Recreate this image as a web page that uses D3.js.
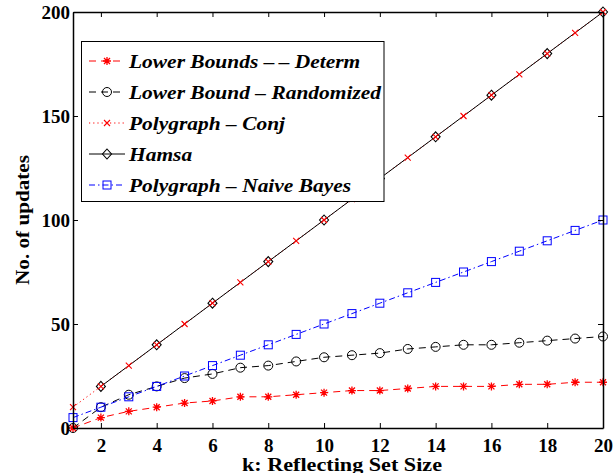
<!DOCTYPE html>
<html>
<head>
<meta charset="utf-8">
<script src="https://cdn.jsdelivr.net/npm/d3@7"></script>
<style>
  body { margin: 0; background: #fff; }
  svg { display: block; }
</style>
</head>
<body>
<svg id="chart" width="615" height="473"></svg>
<script>
// data
const k = [1, 2, 3, 4, 5, 6, 7, 8, 9, 10, 11, 12, 13, 14, 15, 16, 17, 18, 19, 20]
const determ = [0, 5, 8, 10, 12, 13, 15, 15, 16, 17, 18, 18, 19, 20, 20, 20, 21, 21, 22, 22]
const randomized = [0, 10, 16, 20, 24, 26, 29, 30, 32, 34, 35, 36, 38, 39, 40, 40, 41, 42, 43, 44]
const conj = [10, 20, 30, 40, 50, 60, 70, 80, 90, 100, 110, 120, 130, 140, 150, 160, 170, 180, 190, 200]
const hamsaK = [2, 4, 6, 8, 10, 12, 14, 16, 18, 20]
const hamsa = [20, 40, 60, 80, 100, 120, 140, 160, 180, 200]
const naiveBayes = [5, 10, 15, 20, 25, 30, 35, 40, 45, 50, 55, 60, 65, 70, 75, 80, 85, 90, 95, 100]

const xTicks = [2, 4, 6, 8, 10, 12, 14, 16, 18, 20]
const yTicks = [0, 50, 100, 150, 200]
const legendLabels = ['Lower Bounds \u2013\u2009\u2013 Determ', 'Lower Bound \u2013 Randomized', 'Polygraph \u2013 Conj', 'Hamsa', 'Polygraph \u2013 Naive Bayes']

const plotL = 73, plotR = 603, plotT = 12, plotB = 428
const FONT = '"Liberation Serif", "Times New Roman", Times, serif'

const svg = d3.select('#chart')
const x = d3.scaleLinear().domain([1, 20]).range([plotL, plotR])
const y = d3.scaleLinear().domain([0, 200]).range([plotB, plotT])

// marker shapes
const marker = function (g, type, color) {
  if (type == 'star') {
    g.append('path').attr('d', 'M-4,0H4M0,-4V4M-3,-3L3,3M-3,3L3,-3')
      .attr('stroke', color).attr('stroke-width', 1.3).attr('fill', 'none')
  } else if (type == 'circle') {
    g.append('circle').attr('r', 4.5).attr('stroke', color).attr('fill', 'none').attr('stroke-width', 1)
  } else if (type == 'x') {
    g.append('path').attr('d', 'M-3,-3L3,3M-3,3L3,-3')
      .attr('stroke', color).attr('stroke-width', 1.1).attr('fill', 'none')
  } else if (type == 'diamond') {
    g.append('path').attr('d', 'M0,-5L4.5,0L0,5L-4.5,0Z')
      .attr('stroke', color).attr('fill', 'none').attr('stroke-width', 1.1)
  } else if (type == 'square') {
    g.append('rect').attr('x', -4).attr('y', -4).attr('width', 8).attr('height', 8)
      .attr('stroke', color).attr('fill', 'none').attr('stroke-width', 1)
  }
}

// drawing order: lines bottom to top, then markers
const series = [
  { name: legendLabels[2], xs: k, ys: conj, color: '#ff0000', dash: '1.2,3', mark: 'x' },
  { name: legendLabels[3], xs: hamsaK, ys: hamsa, color: '#000', dash: null, mark: 'diamond' },
  { name: legendLabels[1], xs: k, ys: randomized, color: '#000', dash: '7,5', mark: 'circle' },
  { name: legendLabels[4], xs: k, ys: naiveBayes, color: '#0000ff', dash: '6,3,1.5,3', mark: 'square' },
  { name: legendLabels[0], xs: k, ys: determ, color: '#ff0000', dash: '7,5', mark: 'star' }
]

const line = d3.line().x(d => x(d[0])).y(d => y(d[1]))

series.forEach(s => {
  const pts = s.xs.map((v, i) => [v, s.ys[i]])
  svg.append('path').datum(pts).attr('d', line)
    .attr('fill', 'none').attr('stroke', s.color).attr('stroke-width', 1)
    .attr('stroke-dasharray', s.dash)
})
const markerOrder = [1, 0, 2, 3, 4]
markerOrder.forEach(si => {
  const s = series[si]
  s.xs.forEach((v, i) => {
    const g = svg.append('g').attr('transform', `translate(${x(v)},${y(s.ys[i])})`)
    marker(g, s.mark, s.color)
  })
})

// axes, ticks inward on all four sides
const fmt = d3.format('d')
svg.append('g').attr('transform', `translate(0,${plotB})`)
  .call(d3.axisBottom(x).tickValues(xTicks).tickFormat(fmt).tickSizeInner(-5).tickSizeOuter(0).tickPadding(11))
svg.append('g').attr('transform', `translate(0,${plotT})`)
  .call(d3.axisTop(x).tickValues(xTicks).tickFormat('').tickSizeInner(-5).tickSizeOuter(0))
svg.append('g').attr('transform', `translate(${plotL},0)`)
  .call(d3.axisLeft(y).tickValues(yTicks).tickFormat(fmt).tickSizeInner(-5).tickSizeOuter(0).tickPadding(3))
svg.append('g').attr('transform', `translate(${plotR},0)`)
  .call(d3.axisRight(y).tickValues(yTicks).tickFormat('').tickSizeInner(-5).tickSizeOuter(0))

svg.selectAll('.domain').attr('stroke', '#000').attr('stroke-width', 1.5)
svg.selectAll('.tick line').attr('stroke', '#000')
svg.selectAll('.tick text').attr('font-size', 19).attr('fill', '#000')
  .attr('font-family', FONT).attr('font-weight', 'bold')

// squeeze / stretch a text to a given width (the reference font is wider)
const fitWidth = function (sel, w) {
  sel.attr('textLength', w).attr('lengthAdjust', 'spacingAndGlyphs')
}

// axis labels
svg.append('text').attr('x', (plotL + plotR) / 2 + 4).attr('y', 471).attr('text-anchor', 'middle')
  .attr('font-family', FONT).attr('font-weight', 'bold').attr('font-size', 19)
  .text('k: Reflecting Set Size').call(fitWidth, 200)
svg.append('text').attr('transform', `translate(29,${(plotT + plotB) / 2}) rotate(-90)`)
  .attr('text-anchor', 'middle').attr('font-family', FONT).attr('font-weight', 'bold')
  .attr('font-size', 19).text('No. of updates').call(fitWidth, 130)

// legend
const lg = svg.append('g')
lg.append('rect').attr('x', 81.5).attr('y', 41.5).attr('width', 302.5).attr('height', 160)
  .attr('fill', '#fff').attr('stroke', '#000').attr('stroke-width', 1)
const legendOrder = [4, 2, 0, 1, 3]
const legendTexts = []
legendOrder.forEach((si, i) => {
  const s = series[si]
  const cy = 61 + i * 31
  lg.append('line').attr('x1', 89).attr('x2', 125).attr('y1', cy).attr('y2', cy)
    .attr('stroke', s.color).attr('stroke-width', 1).attr('stroke-dasharray', s.dash)
  marker(lg.append('g').attr('transform', `translate(107,${cy})`), s.mark, s.color)
  legendTexts.push(lg.append('text').attr('x', 129).attr('y', cy + 6.5).attr('font-size', 18)
    .attr('font-family', FONT).attr('font-weight', 'bold').attr('font-style', 'italic')
    .text(s.name))
})
// widest label "Lower Bound - Randomized" spans about 252px in the reference
const sx = 252 / legendTexts[1].node().getComputedTextLength()
legendTexts.forEach(t => fitWidth(t, t.node().getComputedTextLength() * sx))
</script>
</body>
</html>
